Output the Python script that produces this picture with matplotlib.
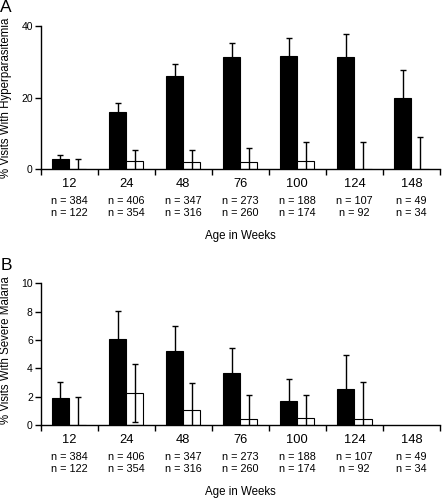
import matplotlib
matplotlib.use("Agg")
import matplotlib.pyplot as plt
import numpy as np

plt.rcParams['font.family'] = ['Liberation Sans', 'DejaVu Sans']

ages = ['12', '24', '48', '76', '100', '124', '148']
n_first = [384, 406, 347, 273, 188, 107, 49]
n_second = [122, 354, 316, 260, 174, 92, 34]

# panel A: hyperparasitemia
hyp_black = [2.7, 15.9, 26.0, 31.2, 31.7, 31.2, 19.8]
hyp_black_err = [1.2, 2.7, 3.5, 4.0, 5.0, 6.5, 7.8]
hyp_white = [0, 2.3, 1.9, 1.9, 2.3, 0, 0]
hyp_white_err = [2.7, 3.0, 3.4, 4.0, 5.2, 7.5, 9.0]

# panel B: severe malaria
sev_black = [1.93, 6.05, 5.22, 3.69, 1.72, 2.56, np.nan]
sev_black_err = [1.07, 2.02, 1.78, 1.71, 1.5, 2.36, np.nan]
sev_white = [0, 2.24, 1.05, 0.42, 0.5, 0.42, np.nan]
sev_white_err = [2.0, 2.06, 1.94, 1.71, 1.63, 2.59, np.nan]

W, H = 442, 499
fig = plt.figure(figsize=(W / 100, H / 100), dpi=100)


def panel(top, bottom, black, berr, white, werr, ymax, yticks, ylabel, ylab_y):
    ax = fig.add_axes([40.5 / W, 1 - bottom / H, 399.5 / W, (bottom - top) / H])
    x = np.arange(len(ages)) + 0.5
    w = 0.3
    ax.bar(x - w / 2, black, w, color='black', edgecolor='black', linewidth=0.8, zorder=2)
    ax.bar(x + w / 2, white, w, color='white', edgecolor='black', linewidth=0.8, zorder=2)
    ax.errorbar(x - w / 2, black, yerr=berr, fmt='none', ecolor='black',
                elinewidth=1, capsize=2.5, capthick=1, zorder=3)
    ax.errorbar(x + w / 2, white, yerr=werr, fmt='none', ecolor='black',
                elinewidth=1, capsize=2.5, capthick=1, zorder=3)
    ax.set_xlim(0, len(ages))
    ax.set_ylim(0, ymax)
    ax.set_yticks(yticks)
    ax.set_xticks(np.arange(len(ages) + 1))
    ax.set_xticklabels([])
    ax.set_xticks(x, minor=True)
    ax.set_xticklabels(ages, minor=True, fontsize=9.3)
    ax.tick_params(axis='x', which='minor', length=0, pad=6.5)
    ax.tick_params(axis='x', which='major', length=4, width=1, direction='out')
    ax.tick_params(axis='y', length=4, width=1, direction='out', labelsize=7.5, pad=1.5)
    for s in ['top', 'right']:
        ax.spines[s].set_visible(False)
    for s in ['left', 'bottom']:
        ax.spines[s].set_linewidth(1)
    trans = ax.get_xaxis_transform()
    hpx = bottom - top
    for xi, a, b in zip(x, n_first, n_second):
        ax.text(xi, -32.2 / hpx, 'n = %d' % a, transform=trans,
                ha='center', va='center', fontsize=7.8)
        ax.text(xi, -43.5 / hpx, 'n = %d' % b, transform=trans,
                ha='center', va='center', fontsize=7.8)
    ax.text(3.5, -67.5 / hpx, 'Age in Weeks', transform=trans,
            ha='center', va='center', fontsize=8.3)
    ax.set_ylabel(ylabel, fontsize=8.3)
    ax.yaxis.set_label_coords(-0.071, ylab_y)
    return ax


panel(26, 169, hyp_black, hyp_black_err, hyp_white, hyp_white_err,
      40, [0, 20, 40], '% Visits With Hyperparasitemia', 0.5)
panel(283.3, 425, sev_black, sev_black_err, sev_white, sev_white_err,
      10, [0, 2, 4, 6, 8, 10], '% Visits With Severe Malaria', 0.53)

fig.text(0 / W, 1 - 7 / H, 'A', fontsize=12.5, ha='left', va='center')
fig.text(1 / W, 1 - 266 / H, 'B', fontsize=12.5, ha='left', va='center')

fig.savefig('out.png', dpi=100)
